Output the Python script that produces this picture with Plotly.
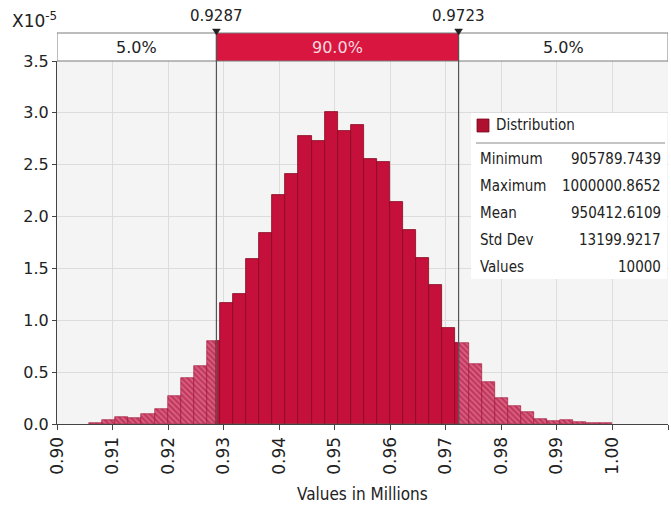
import numpy as np
import plotly.graph_objects as go

# Simulation summary
stat_names = ["Minimum", "Maximum", "Mean", "Std Dev", "Values"]
stat_values = ["905789.7439", "1000000.8652", "950412.6109", "13199.9217", "10000"]
sim_min = 905789.7439
sim_max = 1000000.8652
n_bins = 40

# Probability density per bin (units of 1e-5)
density_e5 = [
    0.012, 0.043, 0.066, 0.060, 0.092, 0.140, 0.268, 0.446, 0.558, 0.800,
    1.170, 1.257, 1.588, 1.839, 2.208, 2.411, 2.778, 2.730, 3.004, 2.826,
    2.884, 2.553, 2.527, 2.145, 1.868, 1.597, 1.340, 0.922, 0.784, 0.581,
    0.407, 0.246, 0.172, 0.118, 0.053, 0.027, 0.043, 0.024, 0.014, 0.011,
]

# Delimiters (millions) and the share of values in each region
cut_lo, cut_hi = 0.9287, 0.9723
cut_labels = ["0.9287", "0.9723"]
region_pcts = ["5.0%", "90.0%", "5.0%"]

x_ticks = [0.90, 0.91, 0.92, 0.93, 0.94, 0.95, 0.96, 0.97, 0.98, 0.99, 1.00, 1.01]
y_ticks = [0.0, 0.5, 1.0, 1.5, 2.0, 2.5, 3.0, 3.5]

X_MIN, X_MAX = 0.90, 1.01
Y_MAX = 3.5

RED = "#C4103A"
RED_EDGE = "#860A22"
BOX_RED = "#D9163F"
FONT = "DejaVu Sans"
FONT_C = "DejaVu Sans Condensed"
INK = "#222222"

edges = np.linspace(sim_min, sim_max, n_bins + 1) / 1e6

# split every bin into tail (hatched) and central (solid) pieces
tail_x, tail_w, tail_y = [], [], []
mid_x, mid_w, mid_y = [], [], []
for i, h in enumerate(density_e5):
    a, b = edges[i], edges[i + 1]
    pieces = [
        (a, min(b, cut_lo), "tail"),
        (max(a, cut_lo), min(b, cut_hi), "mid"),
        (max(a, cut_hi), b, "tail"),
    ]
    for lo, hi, kind in pieces:
        if hi - lo <= 1e-9:
            continue
        if kind == "tail":
            tail_x.append((lo + hi) / 2); tail_w.append(hi - lo); tail_y.append(h)
        else:
            mid_x.append((lo + hi) / 2); mid_w.append(hi - lo); mid_y.append(h)

fig = go.Figure()
fig.add_trace(go.Bar(
    x=mid_x, y=mid_y, width=mid_w,
    marker=dict(color=RED, line=dict(color=RED_EDGE, width=0.8)),
    showlegend=False, hoverinfo="skip",
))
fig.add_trace(go.Bar(
    x=tail_x, y=tail_y, width=tail_w,
    marker=dict(
        color="#D85A7E",
        line=dict(color="#9E0C30", width=0.6),
        pattern=dict(shape="\\", fgcolor="#A80C32", bgcolor="#DA6586",
                     size=4, solidity=0.6, fillmode="overlay"),
    ),
    showlegend=False, hoverinfo="skip",
))

# plot area geometry in pixels
W, H = 671, 510
ML, MR, MT, MB = 57, 3, 61, 86
PW, PH = W - ML - MR, H - MT - MB


def py(pix):
    """paper y from a pixel row"""
    return (H - MB - pix) / PH


def px(pix):
    """paper x from a pixel column"""
    return (pix - ML) / PW


shapes = []
annotations = []

# region band above the plot
band_top, band_bot = py(33), 1.0
bounds = [X_MIN, cut_lo, cut_hi, X_MAX]
for k in range(3):
    shapes.append(dict(
        type="rect", xref="x", yref="paper",
        x0=bounds[k], x1=bounds[k + 1], y0=band_bot, y1=band_top,
        fillcolor=BOX_RED if k == 1 else "white",
        line=dict(color="#7A7A7A", width=1), layer="above",
    ))
    annotations.append(dict(
        x=(bounds[k] + bounds[k + 1]) / 2, xref="x",
        y=py(47), yref="paper", yanchor="middle", xanchor="center",
        text=region_pcts[k], showarrow=False,
        font=dict(family=FONT, size=16, color="#F6D9DF" if k == 1 else INK),
    ))

# delimiter lines, markers and values
dx = 0.0007
for c, lab in zip([cut_lo, cut_hi], cut_labels):
    shapes.append(dict(
        type="line", xref="x", yref="paper", x0=c, x1=c, y0=0, y1=band_top,
        line=dict(color="#555555", width=1.2), layer="above",
    ))
    shapes.append(dict(
        type="path", xref="x", yref="paper",
        path=f"M {c - dx},{py(29)} L {c + dx},{py(29)} L {c},{py(35)} Z",
        fillcolor=INK, line=dict(color=INK, width=0.5), layer="above",
    ))
    annotations.append(dict(
        x=c, xref="x", y=py(16), yref="paper", yanchor="middle", xanchor="center",
        text=lab, showarrow=False,
        font=dict(family=FONT, size=15, color=INK),
    ))

# scale factor label
annotations.append(dict(
    x=px(10), xref="paper", y=py(20), yref="paper", xanchor="left", yanchor="middle",
    text="X10<sup>-5</sup>", showarrow=False,
    font=dict(family=FONT, size=17, color=INK),
))

# statistics box
shapes.append(dict(
    type="rect", xref="paper", yref="paper",
    x0=px(471), x1=px(667), y0=py(113), y1=py(279),
    fillcolor="white", line=dict(color="white", width=0), layer="above",
))
shapes.append(dict(
    type="rect", xref="paper", yref="paper",
    x0=px(477), x1=px(489), y0=py(119), y1=py(132),
    fillcolor="#B0102F", line=dict(color="#7A0A20", width=0.8), layer="above",
))
shapes.append(dict(
    type="line", xref="paper", yref="paper",
    x0=px(476), x1=px(665), y0=py(143), y1=py(143),
    line=dict(color="#8A8A8A", width=1), layer="above",
))
annotations.append(dict(
    x=px(494), xref="paper", y=py(125), yref="paper", xanchor="left", yanchor="middle",
    text="Distribution", showarrow=False,
    font=dict(family=FONT_C, size=15, color=INK),
))
row_y = [159, 186, 213, 240, 267]
for name, val, ry in zip(stat_names, stat_values, row_y):
    annotations.append(dict(
        x=px(478), xref="paper", y=py(ry), yref="paper", xanchor="left", yanchor="middle",
        text=name, showarrow=False, font=dict(family=FONT_C, size=15, color=INK),
    ))
    annotations.append(dict(
        x=px(663), xref="paper", y=py(ry), yref="paper", xanchor="right", yanchor="middle",
        text=val, showarrow=False, font=dict(family=FONT_C, size=15, color=INK),
    ))

# axis title
annotations.append(dict(
    x=px(362), xref="paper", y=py(494), yref="paper", yanchor="middle", xanchor="center",
    text="Values in Millions", showarrow=False,
    font=dict(family=FONT_C, size=17, color=INK),
))

fig.update_layout(
    width=W, height=H,
    margin=dict(l=ML, r=MR, t=MT, b=MB),
    paper_bgcolor="white", plot_bgcolor="#F4F4F4",
    barmode="overlay", bargap=0,
    shapes=shapes, annotations=annotations,
    showlegend=False,
)
fig.update_xaxes(
    range=[X_MIN, X_MAX], tickvals=x_ticks, ticktext=[f"{v:.2f}" for v in x_ticks],
    tickangle=-90, tickfont=dict(family=FONT, size=17, color=INK),
    showgrid=True, gridcolor="#DCDCDC", gridwidth=1,
    showline=True, linecolor="#444444", linewidth=1.2,
    ticks="outside", ticklen=5, tickcolor="#444444", zeroline=False,
)
fig.update_yaxes(
    range=[0, Y_MAX], tickvals=y_ticks, ticktext=[f"{v:.1f}" for v in y_ticks],
    tickfont=dict(family=FONT, size=16, color=INK),
    showgrid=True, gridcolor="#DCDCDC", gridwidth=1,
    showline=True, linecolor="#444444", linewidth=1.2,
    ticks="outside", ticklen=4, tickcolor="#444444", zeroline=False,
)

fig.write_html("out.html")
